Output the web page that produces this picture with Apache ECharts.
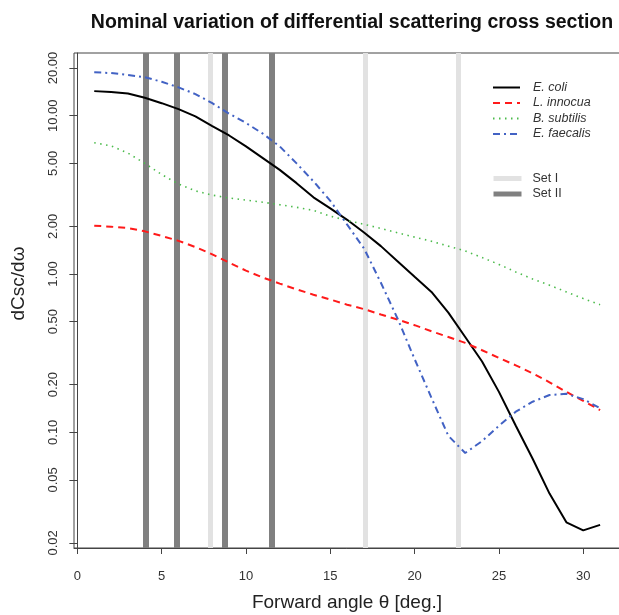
<!DOCTYPE html>
<html>
<head>
<meta charset="utf-8">
<script src="https://cdn.jsdelivr.net/npm/echarts@6/dist/echarts.min.js"></script>
<style>
html,body{margin:0;padding:0;background:#fff;}
#chart{width:619px;height:615px;}
</style>
</head>
<body>
<div id="chart"></div>
<script>
// ---- data ----
const angles = [1,2,3,4,5,6,7,8,9,10,11,12,13,14,15,16,17,18,19,20,21,22,23,24,25,26,27,28,29,30,31];
const eColi = [14.3,14.1,13.8,13.0,12.0,11.0,9.9,8.6,7.5,6.4,5.4,4.55,3.75,3.05,2.6,2.2,1.83,1.5,1.2,0.96,0.77,0.57,0.40,0.28,0.18,0.11,0.068,0.041,0.027,0.024,0.026];
const lInnocua = [2.02,1.99,1.95,1.86,1.74,1.62,1.48,1.33,1.18,1.05,0.95,0.87,0.80,0.74,0.69,0.64,0.60,0.555,0.515,0.475,0.435,0.40,0.367,0.33,0.295,0.265,0.236,0.207,0.18,0.158,0.138];
const bSubtilis = [6.75,6.45,5.8,5.0,4.25,3.7,3.35,3.15,3.02,2.93,2.84,2.74,2.64,2.52,2.32,2.18,2.06,1.94,1.82,1.71,1.61,1.50,1.40,1.27,1.15,1.03,0.93,0.85,0.77,0.70,0.64];
const eFaecalis = [18.8,18.6,18.1,17.5,16.4,15.1,13.7,12.0,10.3,9.0,7.7,6.4,5.0,3.85,2.9,2.05,1.45,0.88,0.52,0.29,0.165,0.095,0.074,0.088,0.11,0.135,0.156,0.172,0.175,0.162,0.142];
const setI = [7.86, 17.07, 22.56];
const setII = [4.05, 5.89, 8.74, 11.5];
const yTicks = [0.02,0.05,0.1,0.2,0.5,1,2,5,10,20];
const xTicks = [0,5,10,15,20,25,30];
const seriesNames = ['E. coli','L. innocua','B. subtilis','E. faecalis'];
const setNames = ['Set I','Set II'];

const pairs = arr => angles.map((a,i)=>[a, arr[i]]);
const font = 'Liberation Sans, Arial, Helvetica, sans-serif';

const chart = echarts.init(document.getElementById('chart'), null, {renderer:'canvas'});

function curve(name, arr, color, type, width){
  return {
    name, type:'line', data: pairs(arr), symbol:'none', smooth:false, z:5,
    lineStyle:{color, width, type},
    itemStyle:{color}
  };
}
function barSet(name, xs, color, width){
  return {
    name, type:'line', data:[], symbol:'none', z:1,
    lineStyle:{color, width, type:'solid'}, itemStyle:{color},
    markLine:{
      silent:true, symbol:['none','none'], animation:false,
      label:{show:false},
      lineStyle:{color, width, type:'solid'},
      emphasis:{disabled:true},
      data: xs.map(x=>({xAxis:x}))
    }
  };
}

chart.setOption({
  animation:false,
  backgroundColor:'#fff',
  title:{
    text:'Nominal variation of differential scattering cross section',
    left:347, top:8, textAlign:'center',
    textStyle:{fontFamily:font, fontWeight:'bold', fontSize:19.5, color:'#111'}
  },
  grid:{left:74, top:53, width:546, height:495, show:true, borderColor:'#444', borderWidth:1,
        backgroundColor:'transparent', containLabel:false, outerBoundsMode:'none'},
  legend:[{
    data: seriesNames.map(n=>({name:n})),
    orient:'vertical', left:487, top:76,
    itemWidth:27, itemHeight:14, itemGap:2.5,
    itemStyle:{opacity:0},
    textStyle:{fontFamily:font, fontStyle:'italic', fontSize:12.5, color:'#333', padding:[0,0,0,8]}
  },{
    data: setNames.map(n=>({name:n})),
    orient:'vertical', left:486, top:167,
    itemWidth:28, itemHeight:14, itemGap:2.5,
    itemStyle:{opacity:0},
    lineStyle:{width:5},
    textStyle:{fontFamily:font, fontSize:12.5, color:'#333', padding:[0,0,0,6]}
  }],
  xAxis:{
    type:'value', min:-0.2, max:32.18,
    name:'Forward angle θ [deg.]', nameLocation:'middle', nameGap:45,
    nameTextStyle:{fontFamily:font, fontSize:19, color:'#222'},
    axisLine:{show:true, lineStyle:{color:'#444'}},
    axisTick:{show:true, length:6, inside:false, customValues:xTicks, lineStyle:{color:'#444'}},
    axisLabel:{fontFamily:font, fontSize:13, color:'#333', margin:22, customValues:xTicks},
    splitLine:{show:false}
  },
  yAxis:{
    type:'log', logBase:10, min:0.01858, max:24.9,
    name:'dCsc/dω', nameLocation:'middle', nameGap:46,
    nameTextStyle:{fontFamily:font, fontSize:19, color:'#222', padding:[0,0,0,34]},
    axisLine:{show:true, lineStyle:{color:'#444'}},
    axisTick:{show:true, length:8, customValues:yTicks, lineStyle:{color:'#444'}},
    axisLabel:{fontFamily:font, fontSize:13, color:'#333', rotate:90, margin:14, customValues:yTicks,
      formatter: v => Number(v).toFixed(2)},
    splitLine:{show:false}
  },
  series:[
    barSet('Set I', setI, '#e2e2e2', 5),
    barSet('Set II', setII, '#808080', 6),
    curve('E. coli', eColi, '#000000', 'solid', 2),
    curve('L. innocua', lInnocua, '#ff1a1a', [7,5], 2),
    curve('B. subtilis', bSubtilis, '#4cbb4c', [1.5,4.5], 1.6),
    curve('E. faecalis', eFaecalis, '#4262c4', [7,4,2,4], 2)
  ]
});
</script>
</body>
</html>
